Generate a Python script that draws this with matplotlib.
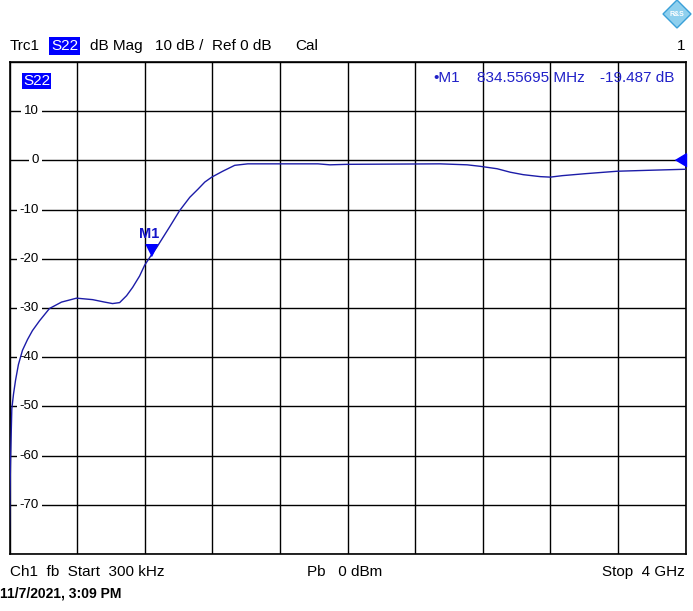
import numpy as np
import matplotlib
matplotlib.use('Agg')
import matplotlib.pyplot as plt
import matplotlib.transforms as mtransforms
from matplotlib.patches import Polygon

# trace (frequency in MHz, S22 in dB)
freq_mhz = [0.3, 2, 6, 9, 14, 24, 36, 53, 77, 107, 136, 178, 237, 308, 397, 492,
            563, 610, 652, 693, 729, 770, 800, 834.557, 871, 948, 1007, 1067, 1114,
            1156, 1197, 1262, 1333, 1410, 1825, 1896, 1997, 2548, 2708, 2785, 2886,
            2963, 3040, 3141, 3200, 3271, 3407, 3597, 3793, 4000]
s22_db = [-75, -70, -62, -57.5, -50.5, -47.5, -44.7, -41.5, -38.6, -36.4, -34.6, -32.6, -30.1,
          -28.8, -28.0, -28.3, -28.8, -29.1, -28.9, -27.5, -25.8, -23.5, -21.3, -19.487, -17.7,
          -13.5, -10.2, -7.5, -5.9, -4.4, -3.4, -2.2, -1.0, -0.7, -0.7, -0.9, -0.8, -0.7,
          -0.9, -1.2, -1.7, -2.4, -2.9, -3.3, -3.4, -3.1, -2.7, -2.2, -2.0, -1.8]

y_ticks = [10, 0, -10, -20, -30, -40, -50, -60, -70]
marker_f = 834.557
marker_db = -19.487

plt.rcParams['font.family'] = ['Liberation Sans', 'DejaVu Sans']

W, H = 693, 611
fig = plt.figure(figsize=(W / 100, H / 100), dpi=100)


def px(x, y):
    return x / W, 1 - y / H


ax = fig.add_axes([9.5 / W, 1 - 554 / H, 676 / W, 492 / H])
ax.set_xlim(0.3, 4000)
ax.set_ylim(-80, 20)
ax.set_xticks(np.linspace(0.3, 4000, 11))
ax.set_yticks(np.arange(-80, 21, 10))
ax.tick_params(length=0, labelbottom=False, labelleft=False)
ax.grid(True, color='black', lw=1, zorder=0)
for s in ax.spines.values():
    s.set_color('black')
    s.set_linewidth(1.2)

# y labels sitting inside the plot on a white patch
trans = mtransforms.blended_transform_factory(ax.transAxes, ax.transData)
for v in y_ticks:
    ax.text(0.0435, v, str(v), transform=trans, ha='right', va='center',
            fontsize=9.5, zorder=2,
            bbox=dict(boxstyle='square,pad=0.2', fc='white', ec='none'))

ax.plot(freq_mhz, s22_db, color='#1c1ca8', lw=1, zorder=3)

# marker M1, tip on the trace
tri_down = [(-0.5, 1), (0.5, 1), (0, 0)]
ax.plot([marker_f], [marker_db], marker=tri_down, ms=17, color='#0000ff', zorder=4)
ax.annotate('M1', (marker_f, marker_db), xytext=(-1, 16), textcoords='offset points',
            ha='center', va='center', color='#1414c8', fontsize=10.5, fontweight='bold')

# reference level arrow at right edge
tri_left = [(-1, 0), (0, 0.6), (0, -0.6)]
ax.plot([4000], [0], marker=tri_left, ms=16, color='#0000ff', clip_on=False, zorder=4)

# S22 label inside the grid
ax.text(*px(23, 81), 'S22', transform=fig.transFigure, color='white', fontsize=11,
        va='center', ha='left', zorder=5,
        bbox=dict(boxstyle='square,pad=0.08', fc='#0000ff', ec='none'))

# marker readout
rd = '#2020c8'
fig.text(*px(433, 78), '\u2022M1', color=rd, fontsize=11, va='center')
fig.text(*px(477, 78), '834.55695 MHz', color=rd, fontsize=11, va='center')
fig.text(*px(600, 78), '-19.487 dB', color=rd, fontsize=11, va='center')

# header line
fs = 11
fig.text(*px(10, 46), 'Trc1', fontsize=fs, va='center')
fig.text(*px(51, 46), 'S22', fontsize=fs, va='center', color='white',
         bbox=dict(boxstyle='square,pad=0.1', fc='#0000ff', ec='none'))
fig.text(*px(90, 46), 'dB Mag', fontsize=fs, va='center')
fig.text(*px(155, 46), '10 dB /', fontsize=fs, va='center')
fig.text(*px(212, 46), 'Ref 0 dB', fontsize=fs, va='center')
fig.text(*px(295, 46), 'Cal', fontsize=fs, va='center')
fig.text(*px(685, 46), '1', fontsize=fs, va='center', ha='right')

# little R&S diamond
cx, cy, r = 677, 14, 14
diamond = Polygon([px(cx, cy - r), px(cx + r, cy), px(cx, cy + r), px(cx - r, cy)],
                  closed=True, transform=fig.transFigure, fc='#8fd0ee', ec='#3aa0d8', lw=1)
fig.patches.append(diamond)
fig.text(*px(cx, cy), 'R&S', fontsize=5, color='white', ha='center', va='center',
         fontweight='bold')

# footer
fig.text(*px(10, 572), 'Ch1  fb  Start  300 kHz', fontsize=fs, va='center')
fig.text(*px(307, 572), 'Pb   0 dBm', fontsize=fs, va='center')
fig.text(*px(685, 572), 'Stop  4 GHz', fontsize=fs, va='center', ha='right')
fig.text(*px(0, 594), '11/7/2021, 3:09 PM', fontsize=10, va='center', fontweight='bold')

fig.savefig('out.png', dpi=100)
